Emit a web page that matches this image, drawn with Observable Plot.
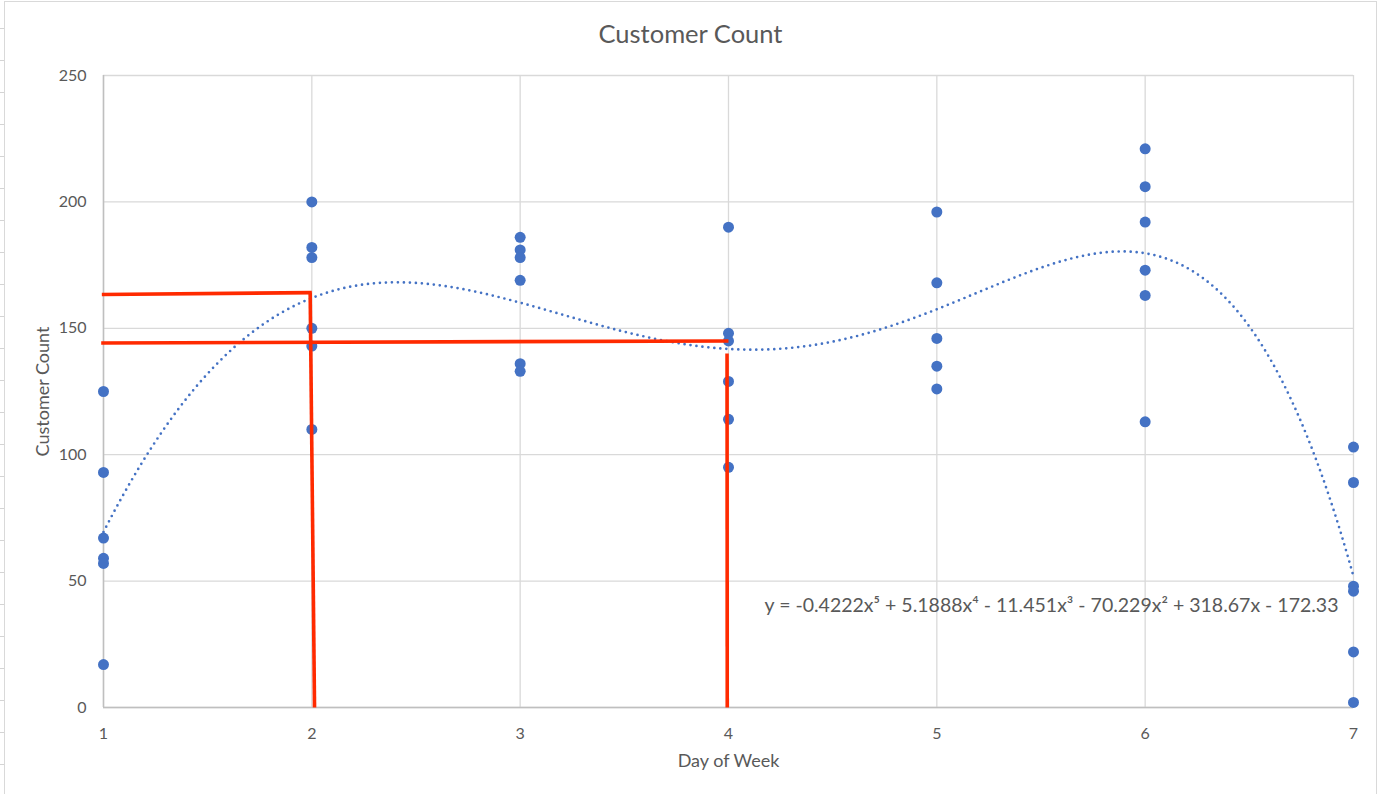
<!DOCTYPE html>
<html>
<head>
<meta charset="utf-8">
<script src="https://cdn.jsdelivr.net/npm/d3@7"></script>
<script src="https://cdn.jsdelivr.net/npm/@observablehq/plot@0.6"></script>
<style>
  html, body { margin: 0; padding: 0; background: #fff; }
  #wrap { position: relative; width: 1380px; height: 794px; overflow: hidden; }
  #rows { position: absolute; left: 0; top: 0; width: 4px; height: 794px;
          background: repeating-linear-gradient(to bottom, transparent 0px, transparent 28.5px, #d4d4d4 28.5px, #d4d4d4 29.5px, transparent 29.5px, transparent 32px);
          background-position: 0 0; }
  #frame { position: absolute; left: 4px; top: 1px; width: 1373px; height: 800px; border: 1px solid #d9d9d9; box-sizing: border-box; pointer-events: none; }
  #chart { position: absolute; left: 0; top: 0; }
</style>
</head>
<body>
<div id="wrap">
  <div id="rows"></div>
  <div id="frame"></div>
  <div id="chart"></div>
</div>
<script>
// ---- data ----
const days = [1, 2, 3, 4, 5, 6, 7];
const customerCounts = [
  [125, 93, 67, 59, 57, 17],      // day 1
  [200, 182, 178, 150, 143, 110], // day 2
  [186, 181, 178, 169, 136, 133], // day 3
  [190, 148, 145, 129, 114, 95],  // day 4
  [196, 168, 146, 135, 126],      // day 5
  [221, 206, 192, 173, 163, 113], // day 6
  [103, 89, 48, 46, 22, 2]        // day 7
];
const yTicks = [0, 50, 100, 150, 200, 250];
// polynomial trendline coefficients as printed (x^5 ... x^0)
const trendCoefficients = [-0.4222, 5.1888, -11.451, -70.229, 318.67, -172.33];
const titleText = "Customer Count";
const xTitle = "Day of Week";
const yTitle = "Customer Count";
// hand-drawn red annotation segments, in data units
const redX1 = [0.992, 1.992, 0.989, 3.993];
const redY1 = [163.4, 164.2, 144.2, 140.0];
const redX2 = [2.000, 2.013, 4.000, 3.994];
const redY2 = [164.1, 0, 145.0, 0];
// equation label anchor (data units)
const eqLabelX = [7];
const eqLabelY = [40.4];

// ---- build tables ----
const points = days.flatMap((d, i) => customerCounts[i].map(c => ({day: d, count: c})));
const poly = x => trendCoefficients.reduce((acc, c) => acc * x + c, 0);
const trend = d3.range(1, 7.0001, 0.02).map(x => ({x, y: poly(x)}));
const redSegments = redX1.map((x1, i) => ({x1, y1: redY1[i], x2: redX2[i], y2: redY2[i]}));
const sup = {5: "\u2075", 4: "\u2074", 3: "\u00B3", 2: "\u00B2", 1: "", 0: ""};
const fmt = c => String(Math.abs(c));
const eqText = "y = " + trendCoefficients.map((c, i) => {
  const p = 5 - i;
  const term = fmt(c) + (p > 0 ? "x" + sup[p] : "");
  if (i === 0) return (c < 0 ? "-" : "") + term;
  return (c < 0 ? " - " : " + ") + term;
}).join("");

const blue = "#4472C4";
const grey = "#595959";

const chart = Plot.plot({
  width: 1380,
  height: 794,
  marginTop: 75,
  marginLeft: 103,
  marginRight: 27,
  marginBottom: 87,
  style: {fontFamily: "Lato, 'Open Sans', sans-serif", color: grey, background: "transparent", overflow: "visible"},
  x: {domain: [1, 7]},
  y: {domain: [0, 250]},
  marks: [
    Plot.gridY(yTicks, {stroke: "#d9d9d9", strokeOpacity: 1, strokeWidth: 1.3}),
    Plot.gridX(days, {stroke: "#d9d9d9", strokeOpacity: 1, strokeWidth: 1.3}),
    Plot.ruleY([0], {stroke: "#bfbfbf", strokeWidth: 1.5}),
    Plot.ruleX([1], {stroke: "#bfbfbf", strokeWidth: 1.5}),
    Plot.axisX(days, {tickSize: 0, tickPadding: 20, fontSize: 16, label: null, tickFormat: d => String(d), fill: grey}),
    Plot.axisY(yTicks, {tickSize: 0, tickPadding: 17, fontSize: 16, label: null, tickFormat: d => String(d), fill: grey}),
    Plot.dot(points, {x: "day", y: "count", r: 5.5, fill: blue, stroke: null}),
    Plot.line(trend, {x: "x", y: "y", stroke: blue, strokeWidth: 2.7, strokeDasharray: "0 6", strokeLinecap: "round"}),
    Plot.link(redSegments, {x1: "x1", y1: "y1", x2: "x2", y2: "y2", stroke: "#ff2a00", strokeWidth: 3.6, strokeLinecap: "butt", clip: false}),
    Plot.text([eqText], {x: eqLabelX, y: eqLabelY, text: d => d, textAnchor: "end", dx: -15, fontSize: 19.5, fill: grey}),
    Plot.text([titleText], {frameAnchor: "top", dx: -38, dy: -51, text: d => d, fontSize: 25.5, fill: grey}),
    Plot.text([xTitle], {frameAnchor: "bottom", dy: 59, text: d => d, fontSize: 18, fill: grey}),
    Plot.text([yTitle], {frameAnchor: "left", dx: -60, rotate: -90, textAnchor: "middle", text: d => d, fontSize: 18, fill: grey})
  ]
});
document.getElementById("chart").appendChild(chart);
</script>
</body>
</html>
